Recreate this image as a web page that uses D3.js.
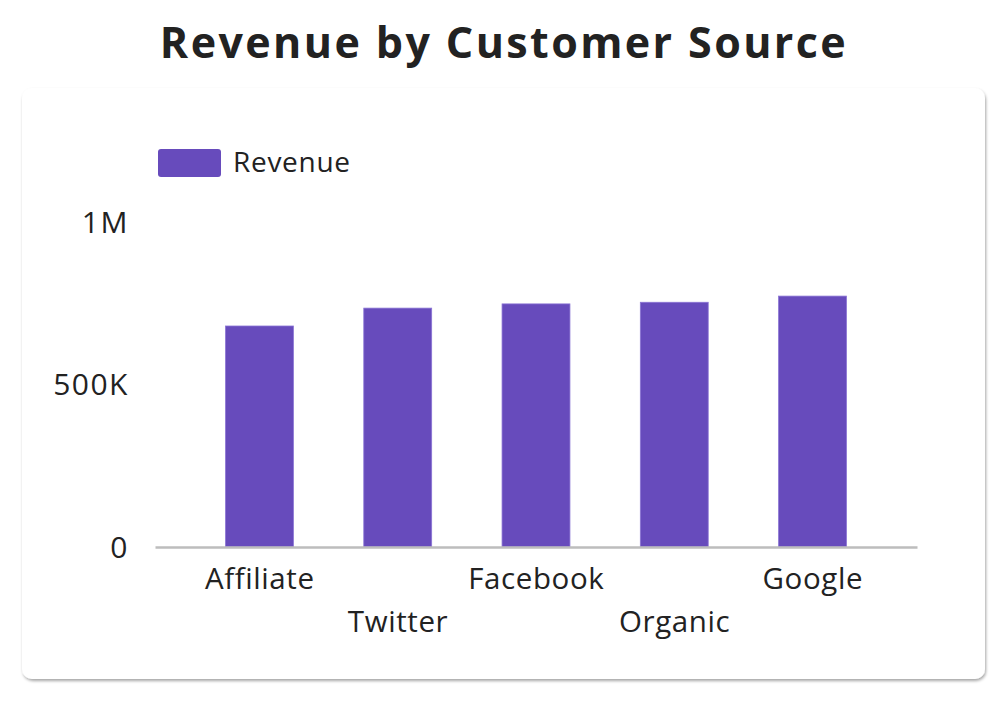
<!DOCTYPE html>
<html>
<head>
<meta charset="utf-8">
<script src="https://cdn.jsdelivr.net/npm/d3@7"></script>
<style>
  body { margin: 0; background: #fff; }
  svg { display: block; }
  text { font-family: "Open Sans", Lato, sans-serif; fill: #222; }
</style>
</head>
<body>
<div id="chart"></div>
<script>
// datos
var sources = ["Affiliate", "Twitter", "Facebook", "Organic", "Google"];
var revenue = [680000, 735000, 748000, 753000, 772000];
var yTicks = [0, 500000, 1000000];
var yTickLabels = ["0", "500K", "1M"];
var seriesName = "Revenue";

var width = 1008, height = 702;
var barColor = "#674bbc";

var svg = d3.select("#chart").append("svg")
  .attr("width", width)
  .attr("height", height);

// sombra de la tarjeta
var defs = svg.append("defs");
var f = defs.append("filter").attr("id", "shadow")
  .attr("x", "-5%").attr("y", "-5%").attr("width", "110%").attr("height", "112%");
f.append("feDropShadow")
  .attr("dx", 1).attr("dy", 2).attr("stdDeviation", 1.6)
  .attr("flood-color", "#000").attr("flood-opacity", 0.35);

// titulo
svg.append("text")
  .attr("x", 504)
  .attr("y", 58)
  .attr("text-anchor", "middle")
  .style("font-size", "43px")
  .style("font-weight", "700")
  .style("letter-spacing", "2.4px")
  .text("Revenue by Customer Source");

// tarjeta
svg.append("rect")
  .attr("x", 22).attr("y", 88)
  .attr("width", 963).attr("height", 591)
  .attr("rx", 10)
  .attr("fill", "#fff")
  .attr("filter", "url(#shadow)");

// escalas
var xScale = d3.scaleBand()
  .domain(sources)
  .range([155, 917])
  .paddingInner(0.509)
  .paddingOuter(0.51);

var yScale = d3.scaleLinear()
  .domain([0, 1000000])
  .range([547, 222]);

var g = svg.append("g");

// barras
g.selectAll("rect.bar")
  .data(sources)
  .enter()
  .append("rect")
  .attr("class", "bar")
  .attr("x", function (d) { return xScale(d); })
  .attr("y", function (d, i) { return yScale(revenue[i]); })
  .attr("width", xScale.bandwidth())
  .attr("height", function (d, i) { return yScale(0) - yScale(revenue[i]); })
  .attr("fill", barColor)
  .attr("stroke", "#8a74d4")
  .attr("stroke-width", 0.8);

// eje x
var xAxis = g.append("g")
  .attr("transform", "translate(0," + yScale(0) + ")")
  .call(d3.axisBottom(xScale).tickSize(0).tickPadding(0));
xAxis.select(".domain")
  .attr("stroke", "#bdbdbd")
  .attr("stroke-width", 2.5);
xAxis.selectAll(".tick text")
  .attr("x", 0.3)
  .attr("y", function (d, i) { return i % 2 ? 85 : 42; })
  .attr("dy", "0")
  .style("font-size", "29.5px")
  .style("letter-spacing", "0.6px")
  .style("fill", "#222");

// eje y
var yAxis = g.append("g")
  .attr("transform", "translate(129,0)")
  .call(d3.axisLeft(yScale)
    .tickValues(yTicks)
    .tickSize(0)
    .tickPadding(0)
    .tickFormat(function (d, i) { return yTickLabels[i]; }));
yAxis.select(".domain").remove();
yAxis.selectAll(".tick text")
  .attr("dy", "0.34em")
  .style("font-size", "30px")
  .style("letter-spacing", "1.5px")
  .style("fill", "#222");

// leyenda
var legend = svg.append("g").attr("transform", "translate(158,149)");
legend.append("rect")
  .attr("width", 63).attr("height", 28)
  .attr("rx", 3)
  .attr("fill", barColor);
legend.append("text")
  .attr("x", 75).attr("y", 23)
  .style("font-size", "28px")
  .style("letter-spacing", "0.7px")
  .text(seriesName);
</script>
</body>
</html>
